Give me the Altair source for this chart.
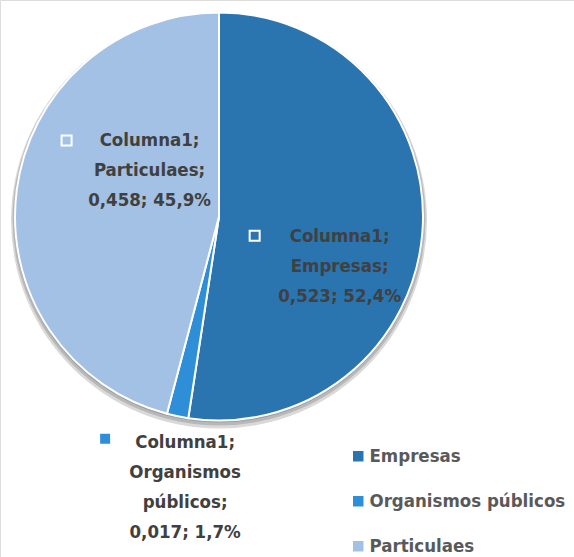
import altair as alt
import pandas as pd

# Share of "Columna1" by type of client
categories = ["Empresas", "Organismos públicos", "Particulaes"]
values = [0.523, 0.017, 0.458]
percent_labels = ["52,4%", "1,7%", "45,9%"]
value_labels = ["0,523", "0,017", "0,458"]
series_name = "Columna1"

colors = ["#2A74B0", "#2E8FD8", "#A3C1E5"]
FONT = "'DejaVu Sans Condensed', 'Roboto Condensed', Roboto, sans-serif"
W, H = 574, 557
CX, CY, R = 219, 216.5, 204
TOTAL = sum(values)

df = pd.DataFrame({
    "cat": categories,
    "value": values,
    "order": list(range(len(categories))),
    "label": [
        f"{series_name};\n{c};\n{v}; {p}"
        for c, v, p in zip(categories, value_labels, percent_labels)
    ],
})
# Organismos públicos wraps its name over two lines
df.loc[1, "label"] = f"{series_name};\nOrganismos\npúblicos;\n{value_labels[1]}; {percent_labels[1]}"

color_scale = alt.Scale(domain=categories, range=colors)

base = alt.Chart(df)

# soft shadow under the pie
shadows = [
    base.mark_arc(radius=R + 1 + k, color="#000000", opacity=0.05).encode(
        x=alt.value(CX), y=alt.value(CY + 1 + k)
    )
    for k in (0, 1.5, 3)
]

pie = base.mark_arc(radius=R, stroke="white", strokeWidth=2).encode(
    x=alt.value(CX),
    y=alt.value(CY),
    theta=alt.Theta("value:Q", stack=True, scale=alt.Scale(domain=[0, TOTAL])),
    color=alt.Color(
        "cat:N",
        scale=color_scale,
        sort=categories,
        legend=alt.Legend(
            title=None,
            orient="none",
            legendX=349,
            legendY=447,
            symbolType="square",
            symbolSize=110,
            symbolStrokeWidth=0,
            labelFont=FONT,
            labelFontSize=18.5,
            labelFontWeight="bold",
            labelColor="#595959",
            labelLimit=300,
            rowPadding=26,
            labelOffset=2,
        ),
    ),
    order=alt.Order("order:Q"),
)

# mid angle of every slice, used to anchor its data label
positioned = (
    base.transform_window(cum="sum(value)", sort=[alt.SortField("order")])
    .transform_calculate(ang=f"2*PI*(datum.cum - datum.value/2)/{TOTAL}")
)

# (radius from centre, extra dx, extra dy, marker dx, marker dy, marker filled)
label_layout = {
    "Empresas": (121, 0, 10, -85, 0, False),
    "Particulaes": (70, 0, -67, -83, 0, False),
    "Organismos públicos": (275, 22, -44, -80, -3, True),
}

label_layers = []
for i, cat in enumerate(categories):
    rad, ddx, ddy, mdx, mdy, filled = label_layout[cat]
    sel = positioned.transform_filter(alt.datum.cat == cat).transform_calculate(
        px=f"{CX} + {rad}*sin(datum.ang) + {ddx}",
        py=f"{CY} - {rad}*cos(datum.ang) + {ddy}",
    )
    txt = sel.mark_text(
        font=FONT,
        fontSize=18.5,
        fontWeight="bold",
        color="#404040",
        align="center",
        baseline="middle",
        lineBreak="\n",
        lineHeight=30,
    ).encode(
        x=alt.X("px:Q", scale=None),
        y=alt.Y("py:Q", scale=None),
        text="label:N",
    )
    marker = sel.transform_calculate(
        mx=f"datum.px + {mdx}", my=f"datum.py + {mdy}"
    ).mark_point(
        shape="square",
        size=100,
        filled=filled,
        color=colors[i] if filled else "white",
        strokeWidth=2,
        opacity=1,
    ).encode(
        x=alt.X("mx:Q", scale=None),
        y=alt.Y("my:Q", scale=None),
    )
    label_layers += [txt, marker]

chart = (
    alt.layer(*shadows, pie, *label_layers)
    .properties(width=W, height=H, padding=0, autosize=alt.AutoSizeParams(type="none"))
    .configure_view(stroke=None)
    .configure(background="white")
)

chart.save("out.html", embed_options={"renderer": "svg", "actions": False})
